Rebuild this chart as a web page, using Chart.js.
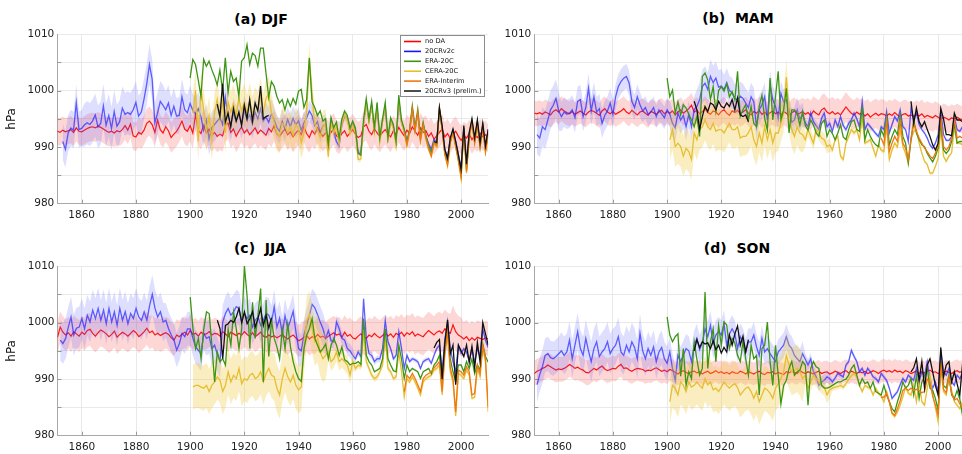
<!DOCTYPE html>
<html>
<head>
<meta charset="utf-8">
<title>Seasonal MSLP reconstructions</title>
<script src="https://cdn.jsdelivr.net/npm/chart.js@4.4.1/dist/chart.umd.min.js"></script>
<style>
  html, body { margin: 0; padding: 0; background: #fff; overflow: hidden; }
  body { width: 962px; height: 454px; position: relative; }
  .panel { position: absolute; width: 490px; height: 227px; }
  .ttl { position: absolute; font: bold 14px "DejaVu Sans", sans-serif; line-height: 14px; color: #000;
         white-space: pre; transform: translateX(-50%); }
</style>
</head>
<body>
<div class="ttl" style="left:261px; top:12px">(a) DJF</div>
<div class="ttl" style="left:738px; top:11px">(b)  MAM</div>
<div class="ttl" style="left:260px; top:241px">(c)  JJA</div>
<div class="ttl" style="left:737px; top:241px">(d)  SON</div>
<div class="panel" style="left:0; top:0"><canvas id="cA" width="490" height="227"></canvas></div>
<div class="panel" style="left:481px; top:0"><canvas id="cB" width="490" height="227"></canvas></div>
<div class="panel" style="left:0; top:227px"><canvas id="cC" width="490" height="227"></canvas></div>
<div class="panel" style="left:481px; top:227px"><canvas id="cD" width="490" height="227"></canvas></div>
<script>
// ---- axes ----
const yearTicks = [1860, 1880, 1900, 1920, 1940, 1960, 1980, 2000];
const hpaTicks = [980, 985, 990, 995, 1000, 1005, 1010];
const seriesNames = ['no DA', '20CRv2c', 'ERA-20C', 'CERA-20C', 'ERA-Interim', '20CRv3 (prelim.)'];

// ---- (a) DJF ----
const djfNoDA = [ // 1851-2010
  992.8, 992.6, 993.0, 992.7, 992.9, 993.1, 992.6, 993.4, 992.8, 992.7,
  993.0, 993.3, 993.5, 993.6, 993.4, 993.7, 993.5, 993.2, 992.9, 992.6,
  992.8, 992.5, 992.9, 992.7, 993.1, 993.8, 993.0, 994.1, 992.0, 991.8,
  992.6, 992.3, 993.0, 994.2, 994.6, 994.0, 992.6, 994.8, 993.1, 992.5,
  993.6, 992.9, 991.7, 992.3, 992.8, 993.6, 994.6, 993.2, 992.8, 993.8,
  992.5, 995.8, 993.0, 992.4, 993.9, 992.5, 993.2, 992.0, 992.6, 991.9,
  992.3, 992.0, 993.8, 994.3, 992.6, 993.2, 991.9, 992.8, 993.6, 992.5,
  993.1, 992.2, 992.8, 993.4, 992.4, 993.0, 992.6, 992.1, 993.3, 992.7,
  993.8, 992.4, 991.9, 992.6, 993.2, 992.2, 992.7, 991.8, 992.5, 993.0,
  992.2, 993.6, 992.4, 991.7, 992.9, 992.3, 993.4, 992.6, 991.9, 992.5,
  991.8, 992.6, 993.2, 992.0, 991.6, 992.4, 992.9, 991.9, 992.5, 993.1,
  992.3, 991.7, 992.0, 993.6, 994.0, 992.8, 992.2, 993.3, 992.5, 991.9,
  992.6, 993.1, 992.4, 991.8, 992.9, 992.2, 993.5, 992.7, 992.0, 993.0,
  992.4, 993.6, 992.8, 992.1, 993.4, 992.6, 992.9, 991.9, 992.5, 991.4,
  992.0, 992.6, 993.2, 991.8, 992.4, 991.5, 992.3, 992.8, 991.9, 991.2,
  992.0, 991.6, 992.4, 991.3, 992.1, 991.7, 992.5, 991.8, 992.2, 991.5
];
const djf20CRv2c = [ // 1853-2010
  991.0, 989.6, 992.5, 993.4, 993.0, 997.8, 993.1, 993.3,
  993.9, 994.3, 994.0, 994.6, 995.7, 993.6, 994.2, 997.3, 993.9, 995.6,
  993.3, 996.3, 993.7, 994.5, 996.9, 995.8, 996.1, 995.8, 996.6, 997.9,
  995.5, 996.2, 998.5, 1001.2, 1004.6, 1002.0, 994.3, 996.0, 998.1, 997.4,
  996.6, 997.8, 995.6, 997.2, 995.5, 995.6, 998.9, 996.6, 996.1, 997.7,
  996.5, 995.8, 996.8, 995.4, 993.0, 994.8, 991.5, 993.4, 994.0, 994.6,
  995.2, 994.0, 998.8, 995.5, 993.8, 996.0, 994.6, 995.8, 994.2, 996.4,
  994.9, 995.7, 994.1, 996.2, 995.0, 996.8, 994.6, 995.3, 994.4, 995.9,
  994.8, 993.5, 992.8, 994.6, 993.2, 994.9, 993.6, 995.1, 993.9, 994.7,
  993.0, 994.3, 995.2, 996.4, 995.6, 993.8, 994.5, 992.6, 993.7, 994.0,
  990.0, 994.5, 992.6, 991.0, 990.2, 994.0, 995.6, 995.2, 992.8, 994.0,
  993.0, 988.9, 989.0, 994.0, 997.8, 994.6, 997.2, 993.0, 997.0, 991.6,
  994.6, 997.0, 991.6, 994.6, 993.6, 991.0, 998.0, 994.4, 993.0, 991.0,
  992.8, 996.6, 993.0, 996.0, 991.6, 994.0, 992.0, 990.6, 989.6, 991.4,
  990.8, 996.6, 993.4, 989.6, 988.2, 991.4, 993.0, 991.0, 988.8, 986.4,
  993.4, 987.2, 992.4, 994.4, 991.4, 994.4, 990.8, 993.8, 990.0, 993.0
];
const djfERA20C = [ // 1900-2010
  1002.2,
  1005.5, 1004.6, 1001.9, 999.0, 1005.5, 1004.3, 1005.2, 1003.7, 1002.5, 1001.0,
  1003.6, 999.9, 1005.8, 999.6, 1003.4, 1001.6, 1002.2, 999.0, 1005.2, 1005.8,
  1008.1, 1004.6, 1006.6, 1006.2, 1004.3, 1007.5, 1007.5, 1003.1, 998.8, 1001.6,
  1000.8, 999.0, 997.8, 998.4, 996.6, 998.4, 997.2, 998.6, 997.6, 999.9,
  1000.2, 997.0, 998.4, 1005.8, 998.0, 997.0, 995.6, 996.4, 994.6, 995.0,
  990.5, 995.2, 993.4, 994.4, 991.6, 995.0, 996.4, 995.6, 993.4, 994.6,
  993.4, 988.9, 988.6, 994.8, 998.6, 995.0, 998.1, 993.4, 997.9, 991.6,
  995.0, 997.9, 991.6, 995.2, 994.0, 991.0, 999.2, 994.8, 993.2, 990.9,
  993.2, 997.3, 993.3, 996.7, 991.6, 994.4, 992.0, 990.3, 989.0, 991.0,
  990.4, 996.8, 993.4, 989.0, 987.2, 991.0, 992.8, 990.4, 988.0, 985.2,
  993.4, 986.0, 992.0, 994.6, 991.0, 994.4, 990.2, 993.8, 989.4, 992.6
];
const djfCERA20C = [ // 1901-2010
  996.0, 1000.0, 991.0, 1000.2, 996.6, 992.8, 995.4, 991.3, 996.0, 998.4,
  994.9, 998.2, 992.5, 998.0, 996.2, 997.6, 995.6, 998.6, 996.4, 997.8,
  996.0, 998.2, 995.8, 997.4, 996.6, 999.0, 996.2, 998.6, 999.4, 996.2,
  994.4, 992.5, 991.9, 994.2, 993.8, 992.6, 993.6, 992.2, 994.0, 993.2,
  990.8, 992.4, 996.4, 1005.6, 999.2, 994.2, 993.0, 991.8, 993.6, 994.0,
  988.3, 994.4, 992.6, 993.6, 990.6, 994.2, 995.8, 994.8, 992.4, 993.8,
  992.6, 987.8, 987.9, 994.0, 998.0, 994.4, 997.4, 992.6, 997.2, 990.8,
  994.4, 997.2, 990.8, 994.6, 993.4, 990.2, 998.4, 994.2, 992.6, 990.2,
  992.6, 996.8, 992.8, 996.0, 991.0, 993.8, 991.4, 989.6, 988.4, 990.6,
  990.0, 996.6, 993.0, 988.6, 986.6, 990.6, 992.4, 990.0, 987.4, 984.4,
  993.0, 985.4, 991.6, 994.2, 990.6, 994.0, 989.8, 993.4, 989.0, 992.2
];
const djfERAI = [ // 1979-2010
  992.8, 990.4,
  992.8, 996.8, 993.0, 996.2, 991.2, 994.0, 991.6, 989.8, 988.4, 990.8,
  990.2, 996.8, 993.2, 988.8, 986.9, 990.8, 992.6, 990.2, 987.7, 984.8,
  993.2, 985.7, 991.8, 994.4, 990.8, 994.2, 990.0, 993.6, 989.2, 992.4
];
const djfV3early = [ // 1910-1929
  997.6, 995.4, 1001.2, 994.4, 996.0, 993.6, 996.8, 994.6, 996.2, 993.8,
  997.4, 995.0, 998.4, 994.6, 997.8, 996.4, 1000.8, 995.0, 995.4, 995.6
];
const djfV3late = [ // 1990-2010
  991.0, 990.8, 997.0, 993.8, 989.6, 988.0, 991.6, 993.2, 991.0, 988.6, 986.0,
  993.8, 987.0, 992.6, 995.0, 991.6, 994.8, 990.8, 994.2, 990.2, 993.2
];
// ensemble half-spreads per decade (1851-60 ... 2001-10)
const djfSpreadNoDA = [2.4, 2.5, 2.5, 2.6, 2.7, 2.8, 2.8, 2.7, 2.7, 2.7, 2.8, 2.8, 2.7, 2.7, 2.6, 2.5];
const djfSpread20CR = [3.2, 3.8, 3.8, 3.6, 3.2, 2.9, 2.7, 2.6, 2.2, 1.8, 0.8, 0.5, 0.4, 0.4, 0.3, 0.3];
const djfSpreadCERA = [null, null, null, null, null, 3.5, 3.5, 3.2, 3.0, 2.8, 1.0, 0.5, 0.4, 0.4, 0.3, 0.3];

// ---- (b) MAM ----
const mamNoDA = [ // 1851-2010
  996.0, 995.9, 996.1, 995.8, 996.2, 996.0, 995.7, 996.3, 996.6, 996.2,
  996.8, 996.4, 996.1, 995.9, 996.3, 995.8, 996.1, 996.4, 996.0, 995.7,
  996.2, 996.5, 996.3, 996.0, 995.6, 996.4, 996.8, 996.2, 995.9, 996.3,
  995.8, 996.1, 996.4, 996.8, 996.2, 995.9, 996.5, 996.1, 995.7, 996.2,
  996.4, 996.0, 995.6, 996.3, 996.1, 995.8, 996.2, 996.5, 995.9, 996.3,
  996.0, 996.4, 995.7, 996.2, 996.6, 996.0, 996.4, 996.8, 997.4, 996.2,
  996.5, 995.9, 996.3, 996.7, 996.1, 995.8, 996.4, 996.2, 995.7, 996.3,
  996.6, 996.0, 995.6, 996.4, 996.1, 996.5, 995.9, 996.2, 996.6, 996.0,
  995.7, 996.3, 996.0, 996.5, 995.8, 996.2, 995.6, 996.1, 996.4, 995.9,
  996.2, 995.7, 996.3, 996.0, 995.5, 996.1, 996.4, 995.8, 996.0, 996.3,
  995.8, 996.1, 995.6, 996.4, 996.0, 995.7, 996.6, 996.9, 996.2, 995.9,
  996.3, 995.8, 996.1, 995.7, 996.4, 997.1, 996.5, 996.0, 995.7, 996.2,
  995.8, 996.1, 995.5, 995.9, 995.3, 995.7, 996.0, 995.6, 995.9, 995.8,
  995.5, 995.9, 995.6, 996.1, 995.7, 995.4, 995.8, 995.9, 995.5, 995.7,
  995.4, 995.8, 995.5, 995.9, 995.3, 995.6, 995.4, 995.2, 995.6, 995.3,
  994.9, 995.3, 995.1, 994.8, 995.2, 994.9, 995.3, 995.0, 994.8, 995.1
];
const mam20CRv2c = [ // 1852-2010
  992.2, 991.6, 993.6, 993.1, 994.8, 996.6, 997.4, 998.6, 996.4,
  995.4, 996.2, 995.8, 996.0, 996.6, 995.2, 998.1, 998.4, 995.4, 997.0,
  1000.4, 996.4, 998.9, 996.2, 996.8, 994.2, 995.6, 996.4, 997.8, 995.8,
  998.9, 1000.7, 1001.6, 1002.2, 1002.5, 1001.3, 998.1, 997.0, 998.9, 997.5,
  996.4, 997.0, 995.8, 996.2, 997.0, 995.4, 996.6, 995.9, 995.2, 996.6,
  995.8, 994.2, 993.4, 996.0, 994.8, 995.6, 993.6, 995.8, 993.6, 996.6,
  997.2, 998.4, 1000.7, 1001.3, 1000.2, 1002.5, 1001.4, 1002.2, 1000.6, 1000.8,
  1000.2, 1001.4, 1000.0, 999.6, 998.6, 998.4, 999.0, 998.6, 997.8, 997.0,
  998.9, 998.0, 993.6, 996.6, 997.5, 998.9, 994.8, 1001.0, 998.4, 997.2,
  995.1, 999.5, 998.0, 998.4, 996.6, 994.4, 994.8, 996.6, 995.0, 995.7,
  994.3, 993.6, 996.0, 994.5, 993.8, 993.1, 995.1, 996.0, 993.6, 994.2,
  992.8, 994.8, 993.6, 995.4, 993.8, 993.1, 994.2, 994.8, 996.0, 995.0,
  993.6, 998.1, 993.1, 994.2, 993.6, 993.0, 992.4, 991.9, 993.6, 993.1,
  996.3, 992.5, 994.0, 995.4, 994.6, 996.6, 993.6, 993.1, 991.0, 996.8,
  995.0, 996.0, 994.0, 993.1, 992.5, 991.6, 990.4, 989.8, 990.7, 992.2,
  996.4, 992.2, 991.2, 991.2, 991.8, 995.4, 993.1, 992.8, 993.6, 993.2
];
const mamERA20C = [ // 1900-2010
  1002.2,
  998.9, 1000.1, 996.0, 998.0, 995.7, 997.5, 996.9, 995.8, 994.8, 993.6,
  995.4, 991.9, 1002.5, 1003.1, 1001.9, 998.4, 1000.7, 996.3, 1000.0, 1000.7,
  999.9, 1001.2, 998.9, 999.8, 998.4, 1003.4, 995.4, 996.6, 997.5, 994.8,
  997.2, 994.2, 993.6, 997.2, 999.2, 995.1, 993.0, 1002.2, 994.8, 998.9,
  1003.4, 994.8, 996.6, 1000.4, 992.5, 996.6, 996.6, 996.0, 993.9, 996.3,
  993.8, 993.0, 994.8, 993.9, 992.5, 991.9, 994.2, 994.8, 991.9, 993.1,
  992.4, 991.3, 992.5, 994.0, 991.8, 991.3, 993.1, 994.5, 994.8, 993.1,
  992.8, 997.2, 991.3, 993.1, 991.9, 991.0, 990.4, 990.1, 993.1, 991.9,
  995.4, 990.4, 991.9, 993.1, 992.2, 995.7, 991.9, 990.7, 987.2, 991.3,
  994.8, 992.5, 991.3, 990.4, 990.1, 988.9, 988.1, 987.4, 988.4, 989.8,
  994.2, 989.5, 988.9, 989.5, 991.0, 994.2, 990.7, 991.0, 991.0, 991.4
];
const mamCERA20C = [ // 1901-2010
  991.3, 993.1, 990.1, 990.7, 990.1, 988.4, 989.8, 989.2, 987.8, 992.5,
  991.3, 993.1, 993.6, 994.8, 993.6, 993.1, 994.2, 992.8, 993.1, 993.1,
  992.5, 993.4, 994.2, 993.1, 993.1, 993.6, 991.6, 991.9, 991.9, 992.5,
  993.6, 991.3, 990.1, 992.5, 990.7, 993.6, 991.3, 993.1, 990.7, 992.5,
  992.5, 994.2, 996.0, 1002.4, 995.7, 993.1, 991.9, 993.6, 992.5, 992.2,
  991.3, 993.1, 991.9, 990.7, 993.1, 992.5, 991.6, 991.3, 990.1, 990.4,
  989.5, 991.3, 991.9, 988.4, 987.8, 990.7, 991.9, 993.1, 992.5, 993.1,
  991.3, 995.4, 990.7, 991.0, 991.3, 989.8, 988.4, 990.4, 989.5, 989.2,
  993.6, 987.8, 989.5, 990.7, 990.0, 993.1, 990.1, 988.9, 987.2, 991.3,
  992.8, 993.1, 990.7, 988.9, 987.5, 986.9, 985.4, 985.4, 986.6, 988.0,
  993.1, 988.4, 987.5, 988.4, 989.0, 993.6, 990.7, 990.7, 990.4, 990.6
];
const mamERAI = [ // 1979-2010
  991.6, 990.4,
  994.6, 989.2, 990.7, 991.9, 991.0, 994.6, 990.7, 989.8, 987.8, 991.6,
  994.2, 992.8, 991.6, 990.7, 989.8, 989.2, 988.4, 988.0, 988.9, 990.4,
  995.4, 990.1, 989.5, 990.1, 991.6, 995.1, 991.6, 991.9, 991.6, 991.8
];
const mamV3early = [ // 1910-1930
  998.1, 996.6, 993.1, 995.4, 997.2, 996.3, 997.8, 997.5, 996.6, 998.1,
  997.2, 996.9, 997.8, 997.2, 998.4, 996.6, 998.7, 995.7, 995.4, 995.7, 994.5
];
const mamV3late = [ // 1990-2010
  998.1, 994.2, 996.9, 994.5, 993.6, 994.5, 993.1, 991.9, 990.4, 989.5, 990.7,
  996.8, 995.0, 992.2, 992.2, 992.0, 996.0, 994.8, 994.8, 994.5, 994.6
];
const mamSpreadNoDA = [2.2, 2.2, 2.2, 2.2, 2.2, 2.2, 2.3, 2.3, 2.4, 2.4, 2.6, 2.6, 2.6, 2.5, 2.5, 2.4];
const mamSpread20CR = [3.4, 2.6, 2.6, 2.2, 2.0, 2.4, 3.0, 2.6, 2.5, 2.2, 0.8, 0.5, 0.4, 0.4, 0.3, 0.3];
const mamSpreadCERA = [null, null, null, null, null, 3.6, 3.6, 3.4, 3.4, 3.2, 1.2, 0.5, 0.4, 0.4, 0.3, 0.3];

// ---- (c) JJA ----
const jjaNoDA = [ // 1851-2010
  997.4, 999.2, 998.3, 997.8, 998.2, 997.6, 998.4, 998.0, 997.6, 998.3,
  997.9, 998.6, 998.8, 998.1, 997.6, 998.2, 998.7, 998.4, 998.0, 997.5,
  997.9, 998.5, 997.4, 997.9, 998.3, 998.0, 997.6, 998.1, 998.6, 998.2,
  997.5, 997.9, 998.4, 999.0, 998.2, 998.5, 997.8, 998.1, 997.7, 998.0,
  998.2, 997.9, 997.3, 996.9, 997.8, 997.5, 998.0, 998.3, 997.8, 998.6,
  997.9, 998.1, 997.6, 998.3, 997.9, 998.0, 998.4, 997.8, 998.1, 998.0,
  997.6, 998.4, 998.0, 997.5, 998.3, 998.0, 997.7, 998.1, 997.8, 998.4,
  997.9, 997.6, 998.2, 997.5, 997.9, 998.3, 997.6, 997.4, 997.8, 997.5,
  997.7, 997.3, 997.6, 997.9, 997.4, 997.1, 997.5, 997.8, 997.3, 996.8,
  997.0, 997.4, 997.7, 997.1, 997.5, 997.3, 997.9, 997.4, 997.6, 997.2,
  997.6, 997.9, 998.2, 997.8, 998.0, 997.4, 998.3, 997.6, 997.9, 997.3,
  997.1, 997.6, 998.0, 997.4, 997.2, 997.8, 997.5, 998.1, 997.6, 997.3,
  997.7, 998.2, 997.6, 998.0, 997.4, 998.1, 997.8, 998.3, 997.6, 998.2,
  997.9, 998.4, 997.6, 998.0, 997.7, 997.5, 998.1, 998.6, 998.2, 997.8,
  998.3, 998.5, 998.1, 998.9, 998.4, 998.1, 999.6, 998.4, 997.8, 997.5,
  997.1, 997.5, 996.8, 997.3, 996.9, 997.4, 997.2, 997.0, 997.3, 997.1
];
const jja20CRv2c = [ // 1852-2010
  996.9, 996.3, 997.2, 999.2, 1001.0, 997.8, 999.0, 999.2, 1000.7,
  998.9, 1001.3, 1000.1, 1002.2, 1000.7, 1002.5, 1000.4, 1002.2, 999.8, 1002.5,
  1000.1, 1001.9, 999.5, 1002.5, 1000.4, 1001.9, 999.8, 1001.6, 1000.7, 1002.5,
  1001.0, 1000.4, 1001.9, 1000.4, 1003.0, 1005.0, 1002.5, 1001.0, 1001.9, 1000.1,
  1000.4, 998.9, 997.8, 996.9, 995.1, 996.3, 998.1, 997.5, 998.9, 998.9,
  997.2, 995.7, 995.1, 994.5, 998.1, 997.2, 997.5, 995.4, 996.0, 994.4,
  993.1, 1000.1, 1001.6, 1002.5, 1001.3, 1001.9, 1002.8, 1002.5, 1000.1, 1001.6,
  1000.7, 1001.3, 999.2, 1000.4, 1001.0, 999.5, 1000.4, 1001.6, 1001.3, 1000.0,
  1002.8, 999.2, 1000.8, 998.0, 1001.2, 999.0, 1000.4, 1002.0, 998.4, 995.4,
  995.0, 997.8, 999.6, 1001.3, 1003.2, 1002.6, 1001.4, 1000.1, 998.9, 997.2,
  998.6, 996.8, 996.6, 1000.1, 998.9, 997.2, 996.9, 995.4, 995.0, 994.2,
  993.6, 994.8, 994.0, 1004.2, 997.2, 994.5, 994.2, 993.1, 993.6, 993.6,
  995.4, 1000.4, 996.6, 995.4, 993.6, 994.2, 998.4, 995.4, 991.9, 994.2,
  993.1, 993.6, 993.4, 993.1, 991.9, 993.1, 993.4, 993.6, 992.8, 994.2,
  995.4, 996.0, 991.3, 997.0, 1000.2, 995.4, 993.1, 991.3, 996.0, 994.6,
  995.4, 994.8, 993.1, 995.4, 993.0, 995.4, 994.0, 998.9, 996.8, 995.6
];
const jjaERA20C = [ // 1900-2010
  1004.5,
  998.9, 995.4, 997.2, 993.6, 998.9, 1001.9, 1001.6, 996.0, 989.5, 994.8,
  993.1, 993.6, 992.5, 998.9, 996.0, 1001.9, 998.9, 995.4, 998.9, 1010.0,
  1004.6, 995.4, 1003.6, 997.2, 1001.3, 1006.0, 989.5, 1004.0, 994.0, 1000.4,
  997.2, 995.7, 993.6, 998.9, 995.4, 999.8, 995.7, 993.1, 991.3, 990.1,
  989.6, 995.4, 997.8, 998.9, 1000.7, 997.2, 996.0, 994.8, 995.4, 996.2,
  993.6, 996.0, 997.2, 996.0, 994.2, 995.7, 993.4, 993.1, 992.5, 992.8,
  992.8, 993.1, 992.6, 1000.7, 994.2, 993.1, 992.5, 991.3, 991.6, 991.9,
  993.6, 998.9, 993.6, 992.5, 991.5, 991.3, 996.0, 993.6, 990.1, 992.5,
  991.3, 991.9, 991.6, 991.3, 990.1, 991.3, 991.6, 991.9, 991.0, 992.5,
  993.1, 994.2, 990.1, 995.4, 998.9, 993.6, 991.3, 989.5, 992.5, 992.5,
  991.3, 993.1, 991.9, 993.6, 991.0, 992.5, 991.6, 996.2, 994.0, 993.0
];
const jjaCERA20C = [ // 1901-2010
  988.6, 988.9, 988.9, 988.6, 988.4, 988.9, 987.8, 988.9, 989.5, 990.4,
  989.8, 987.8, 988.9, 991.3, 989.5, 990.7, 990.1, 991.9, 989.2, 990.1,
  989.8, 990.7, 991.0, 990.1, 990.4, 991.3, 989.5, 991.0, 991.9, 990.7,
  990.4, 988.4, 987.2, 990.1, 991.9, 990.4, 989.5, 990.7, 988.9, 988.1,
  988.6, 995.4, 1000.4, 1001.4, 998.9, 996.6, 997.2, 994.8, 993.6, 994.2,
  994.8, 993.1, 993.6, 994.8, 993.1, 993.6, 993.1, 992.5, 990.7, 993.1,
  991.9, 992.5, 992.2, 998.4, 993.1, 991.9, 990.7, 990.1, 990.4, 991.3,
  992.5, 997.2, 991.9, 991.3, 990.1, 990.4, 994.8, 991.3, 986.9, 990.1,
  989.5, 990.4, 989.5, 988.4, 987.2, 989.5, 990.1, 990.4, 990.7, 991.6,
  991.9, 992.5, 987.2, 994.2, 997.8, 991.3, 989.5, 983.5, 991.0, 990.7,
  990.1, 991.6, 990.7, 986.6, 986.8, 991.9, 990.4, 995.6, 993.0, 984.2
];
const jjaERAI = [ // 1979-2010
  987.8, 990.7,
  990.1, 991.0, 990.1, 989.0, 987.8, 990.1, 990.7, 991.0, 991.3, 992.0,
  992.5, 993.1, 987.8, 995.0, 998.4, 992.0, 990.1, 984.2, 991.6, 991.3,
  990.7, 992.2, 991.3, 987.2, 987.5, 992.5, 991.0, 996.0, 993.6, 985.0
];
const jjaV3early = [ // 1910-1930
  1000.4, 998.9, 993.6, 999.5, 999.8, 1000.4, 1000.0, 1001.0, 1002.5, 1000.0,
  1001.9, 999.8, 1000.7, 1001.9, 999.2, 1000.7, 1002.5, 999.5, 1001.3, 999.0, 1000.8
];
const jjaV3late = [ // 1990-2010
  995.5, 996.5, 997.0, 990.0, 996.5, 1000.5, 994.5, 996.0, 989.0, 996.0, 995.0,
  994.0, 996.0, 993.0, 995.8, 992.0, 996.5, 993.0, 1000.0, 998.0, 996.0
];
const jjaSpreadNoDA = [2.8, 2.9, 2.9, 2.9, 2.8, 2.7, 2.7, 2.7, 2.8, 2.9, 3.0, 3.1, 3.2, 3.3, 3.4, 3.0];
const jjaSpread20CR = [3.6, 3.6, 3.6, 3.4, 3.0, 3.0, 3.0, 3.0, 3.0, 2.8, 1.2, 0.6, 0.5, 0.4, 0.4, 0.3];
const jjaSpreadCERA = [null, null, null, null, null, 4.0, 4.0, 4.0, 4.2, 4.2, 1.6, 0.6, 0.5, 0.4, 0.4, 0.3];

// ---- (d) SON ----
const sonNoDA = [ // 1851-2010
  991.0, 991.4, 991.6, 991.9, 992.1, 992.5, 992.2, 991.9, 991.6, 991.8,
  991.7, 991.9, 992.2, 992.6, 992.3, 991.9, 992.1, 991.8, 991.6, 991.2,
  991.1, 991.5, 991.9, 991.6, 992.0, 992.3, 991.8, 991.5, 991.7, 991.9,
  991.8, 992.3, 992.6, 991.9, 992.0, 991.6, 991.4, 991.7, 991.9, 991.8,
  991.7, 991.4, 991.6, 991.5, 991.8, 992.0, 991.7, 991.4, 991.6, 991.3,
  991.7, 991.5, 991.2, 990.9, 991.3, 991.5, 991.2, 991.0, 991.3, 991.4,
  991.1, 991.3, 990.9, 991.2, 991.4, 991.0, 991.2, 991.5, 991.1, 991.3,
  991.0, 991.2, 990.9, 991.3, 991.1, 991.0, 991.4, 991.2, 990.9, 991.3,
  991.1, 990.9, 991.2, 991.4, 991.0, 990.8, 991.2, 991.1, 991.3, 990.9,
  991.2, 991.0, 990.8, 991.3, 991.1, 991.4, 991.2, 991.0, 991.5, 991.2,
  991.0, 991.3, 991.1, 990.9, 991.2, 991.4, 991.0, 991.2, 991.3, 990.9,
  991.1, 991.4, 991.2, 991.0, 991.3, 991.5, 991.1, 991.4, 991.2, 991.0,
  991.3, 991.1, 991.4, 991.0, 991.2, 991.5, 991.3, 991.0, 991.4, 991.6,
  991.3, 991.5, 991.2, 991.6, 991.3, 991.4, 991.1, 991.5, 991.3, 991.0,
  991.2, 991.5, 991.0, 991.3, 991.1, 991.4, 991.6, 991.2, 991.3, 991.0,
  991.3, 991.1, 991.4, 991.2, 991.0, 991.3, 991.5, 991.2, 991.4, 991.6
];
const son20CRv2c = [ // 1852-2010
  989.0, 990.8, 992.2, 994.2, 994.5, 993.8, 993.6, 994.0, 994.5,
  995.0, 994.2, 994.8, 996.9, 993.6, 996.0, 998.4, 995.4, 994.2, 997.2,
  995.0, 993.1, 995.4, 996.6, 994.0, 994.8, 995.4, 996.6, 994.5, 995.4,
  996.0, 997.5, 994.8, 994.2, 996.0, 994.8, 996.6, 995.6, 993.6, 998.1,
  995.0, 993.6, 995.4, 994.2, 995.7, 993.1, 994.8, 995.6, 993.6, 992.8,
  994.8, 991.9, 989.8, 994.2, 993.1, 994.2, 995.4, 995.0, 993.1, 996.0,
  997.2, 995.2, 996.4, 998.9, 997.5, 999.5, 996.3, 997.8, 998.4, 997.8,
  999.8, 996.0, 998.0, 998.9, 998.0, 995.4, 997.5, 996.6, 994.8, 996.6,
  996.6, 997.8, 995.7, 994.2, 997.2, 994.8, 995.4, 994.5, 993.8, 993.1,
  994.8, 995.4, 996.0, 997.5, 996.0, 995.4, 994.2, 993.6, 993.1, 994.5,
  993.5, 992.5, 993.6, 991.3, 990.4, 988.9, 989.5, 989.8, 990.4, 990.1,
  989.5, 990.2, 991.0, 990.7, 990.4, 992.5, 993.1, 995.1, 994.0, 993.1,
  991.3, 991.9, 990.7, 991.9, 991.3, 990.4, 990.1, 989.5, 991.0, 990.4,
  989.8, 988.4, 986.6, 987.2, 987.8, 989.0, 990.1, 989.5, 990.7, 990.2,
  989.8, 991.9, 989.5, 991.3, 990.6, 993.1, 990.1, 988.4, 989.5, 987.8,
  994.8, 991.3, 990.7, 991.9, 989.5, 988.9, 990.7, 990.1, 991.0, 990.5
];
const sonERA20C = [ // 1900-2010
  1001.0,
  997.8, 996.6, 997.5, 998.0, 990.5, 995.4, 988.9, 991.3, 990.1, 996.6,
  993.5, 990.7, 991.9, 1005.4, 991.9, 996.6, 998.9, 993.1, 999.5, 996.0,
  1000.1, 999.6, 995.4, 997.2, 996.4, 994.2, 993.1, 996.6, 993.6, 990.7,
  996.0, 993.6, 994.2, 987.2, 995.4, 996.0, 1000.1, 993.1, 988.9, 996.0,
  990.7, 985.6, 988.9, 989.8, 991.9, 993.1, 990.7, 991.3, 991.6, 993.1,
  992.5, 985.4, 991.9, 993.1, 992.2, 991.9, 988.9, 988.4, 988.4, 988.6,
  988.9, 989.2, 989.5, 989.5, 989.8, 990.0, 990.7, 991.9, 992.5, 990.7,
  988.9, 990.1, 989.2, 989.5, 988.4, 989.5, 987.8, 987.5, 987.2, 988.9,
  987.2, 986.0, 984.8, 984.2, 986.0, 987.5, 989.5, 988.4, 988.9, 990.1,
  987.2, 990.7, 986.6, 989.5, 990.4, 991.9, 988.4, 988.0, 986.6, 984.5,
  993.1, 988.9, 988.4, 990.7, 987.2, 986.6, 988.0, 986.5, 983.6, 988.0
];
const sonCERA20C = [ // 1901-2010
  986.0, 988.9, 988.4, 987.2, 989.5, 988.9, 987.8, 989.5, 988.6, 988.9,
  989.5, 988.9, 988.4, 990.1, 989.0, 989.5, 988.1, 988.4, 987.8, 988.6,
  989.5, 988.9, 988.4, 988.9, 989.2, 988.5, 987.2, 987.8, 988.4, 988.6,
  987.8, 986.6, 987.8, 986.0, 987.2, 988.4, 988.1, 987.5, 986.6, 988.4,
  989.2, 990.1, 991.3, 994.2, 992.5, 991.3, 991.6, 991.9, 991.3, 990.1,
  990.7, 988.4, 989.5, 990.7, 990.1, 989.5, 988.9, 988.6, 987.2, 988.1,
  988.4, 988.6, 988.7, 988.9, 988.6, 989.2, 990.0, 990.6, 991.0, 990.4,
  988.9, 987.8, 988.9, 988.6, 988.4, 987.2, 988.4, 987.5, 987.0, 986.0,
  987.8, 986.0, 983.9, 983.4, 984.2, 985.4, 986.9, 988.6, 987.5, 987.2,
  988.9, 986.0, 989.5, 986.0, 985.4, 988.4, 990.7, 987.2, 985.0, 982.5,
  992.5, 987.8, 987.2, 990.1, 988.0, 986.0, 985.4, 984.8, 986.0, 985.5
];
const sonERAI = [ // 1979-2010
  986.8, 986.8,
  987.5, 986.0, 984.0, 983.6, 984.8, 986.2, 988.0, 988.4, 988.0, 988.4,
  988.0, 988.2, 988.0, 987.6, 987.8, 990.0, 989.4, 987.0, 985.4, 983.6,
  992.8, 988.2, 987.6, 990.4, 987.5, 986.3, 986.6, 985.6, 985.0, 986.5
];
const sonV3early = [ // 1910-1930
  995.0, 997.0, 995.6, 996.6, 996.2, 996.4, 995.4, 996.8, 995.2, 996.0,
  994.6, 995.6, 994.8, 997.8, 996.0, 998.0, 999.4, 996.0, 997.6, 994.8, 997.0
];
const sonV3late = [ // 1990-2010
  991.3, 992.0, 993.6, 989.8, 993.1, 988.4, 992.5, 993.6, 991.3, 988.9, 987.2,
  995.6, 990.4, 992.5, 993.1, 989.5, 991.3, 989.2, 987.2, 992.6, 991.0
];
const sonSpreadNoDA = [2.2, 2.2, 2.2, 2.2, 2.2, 2.0, 2.0, 2.0, 2.0, 2.0, 2.0, 2.0, 2.0, 2.0, 2.0, 2.0];
const sonSpread20CR = [3.0, 3.3, 3.5, 3.4, 3.0, 2.6, 2.6, 2.4, 2.3, 2.2, 1.0, 0.5, 0.4, 0.4, 0.3, 0.3];
const sonSpreadCERA = [null, null, null, null, null, 4.0, 4.0, 4.0, 4.0, 4.2, 1.5, 0.5, 0.4, 0.4, 0.3, 0.3];

// ---- styles ----
const COL = {
  noDA: '#ff1414', noDABand: 'rgba(245,70,70,0.22)',
  v2c: 'rgba(40,40,255,0.72)', v2cBand: 'rgba(90,90,255,0.2)',
  era20c: '#3c9614',
  cera: '#e6be32', ceraBand: 'rgba(240,200,60,0.32)',
  erai: '#f07814',
  v3: '#111111'
};
const legendColors = ['#ff0000', '#1414ff', '#3c9614', '#e6be32', '#f07814', '#222222'];

Chart.defaults.font.family = '"DejaVu Sans", sans-serif';

function line(vals, start) {
  return vals.map((v, i) => ({ x: start + i, y: v }));
}
function edge(vals, start, spread, sign) {
  return vals.map((v, i) => {
    const yr = start + i;
    return { x: yr, y: v + sign * spread[Math.floor((yr - 1851) / 10)] };
  });
}

function makeDatasets(p) {
  const ds = [];
  const add = (o, order) => ds.push(Object.assign({
    pointRadius: 0, borderWidth: 0, borderColor: 'rgba(0,0,0,0)', tension: 0, fill: false, order
  }, o));
  add({ data: edge(p.noDA, 1851, p.sNoDA, -1) }, 30);
  add({ data: edge(p.noDA, 1851, p.sNoDA, 1), fill: '-1', backgroundColor: COL.noDABand }, 29);
  add({ data: line(p.noDA, 1851), borderColor: COL.noDA, borderWidth: 1.2 }, 28);
  add({ data: edge(p.v2c, p.v2cStart, p.s20CR, -1) }, 27);
  add({ data: edge(p.v2c, p.v2cStart, p.s20CR, 1), fill: '-1', backgroundColor: COL.v2cBand }, 26);
  add({ data: line(p.v2c, p.v2cStart), borderColor: COL.v2c, borderWidth: 1.3 }, 25);
  add({ data: edge(p.cera, 1901, p.sCERA, -1) }, 24);
  add({ data: edge(p.cera, 1901, p.sCERA, 1), fill: '-1', backgroundColor: COL.ceraBand }, 23);
  add({ data: line(p.cera, 1901), borderColor: COL.cera, borderWidth: 1.3 }, 22);
  add({ data: line(p.era20c, 1900), borderColor: COL.era20c, borderWidth: 1.3 }, 21);
  add({ data: line(p.erai, 1979), borderColor: COL.erai, borderWidth: 1.3 }, 20);
  add({ data: line(p.v3a, 1910), borderColor: COL.v3, borderWidth: 1.3 }, 19);
  add({ data: line(p.v3b, 1990), borderColor: COL.v3, borderWidth: 1.3 }, 18);
  return ds;
}

// small inward tick marks like the original axes
const innerTicks = {
  id: 'innerTicks',
  beforeDatasetsDraw(chart) {
    const { ctx, chartArea: a, scales: { x, y } } = chart;
    ctx.save();
    ctx.strokeStyle = '#9a9a9a';
    ctx.lineWidth = 1;
    ctx.beginPath();
    yearTicks.forEach(v => {
      const px = Math.round(x.getPixelForValue(v)) + 0.5;
      ctx.moveTo(px, a.bottom); ctx.lineTo(px, a.bottom - 4);
    });
    hpaTicks.slice(1, -1).forEach(v => {
      const py = Math.round(y.getPixelForValue(v)) + 0.5;
      ctx.moveTo(a.left, py); ctx.lineTo(a.left + 4, py);
    });
    ctx.stroke();
    ctx.restore();
  }
};

// legend box inside panel (a)
const boxLegend = {
  id: 'boxLegend',
  afterDatasetsDraw(chart) {
    const ctx = chart.ctx;
    ctx.save();
    ctx.fillStyle = '#ffffff';
    ctx.fillRect(400.5, 35.5, 84, 61);
    ctx.strokeStyle = '#8c8c8c';
    ctx.lineWidth = 1;
    ctx.strokeRect(400.5, 35.5, 84, 61);
    ctx.font = '6.7px "DejaVu Sans"';
    ctx.textBaseline = 'middle';
    seriesNames.forEach((name, i) => {
      const yy = 41.5 + i * 9.9;
      ctx.strokeStyle = legendColors[i];
      ctx.lineWidth = 1.6;
      ctx.beginPath(); ctx.moveTo(404, yy); ctx.lineTo(421, yy); ctx.stroke();
      ctx.fillStyle = '#111';
      ctx.fillText(name, 425, yy);
    });
    ctx.restore();
  }
};

function makeChart(p) {
  const W = 490, H = 227;
  const [left, right, top, bottom] = p.area;
  const plugins = [innerTicks];
  if (p.legend) plugins.push(boxLegend);
  return new Chart(document.getElementById(p.id), {
    type: 'line',
    data: { datasets: makeDatasets(p) },
    plugins,
    options: {
      responsive: false,
      animation: false,
      devicePixelRatio: 1,
      events: [],
      layout: { padding: { left: 0, right: W - right, top: top, bottom: 0 } },
      plugins: { legend: { display: false }, tooltip: { enabled: false } },
      scales: {
        x: {
          type: 'linear', min: 1851, max: 2010,
          afterBuildTicks: s => { s.ticks = yearTicks.map(v => ({ value: v })); },
          afterFit: s => { s.height = H - bottom; },
          ticks: { callback: v => String(v), color: '#222', font: { size: 10.5 }, padding: 5, maxRotation: 0, autoSkip: false },
          grid: { color: '#e9e9e9', drawTicks: false },
          border: { color: '#a8a8a8' }
        },
        y: {
          min: 980, max: 1010,
          afterBuildTicks: s => { s.ticks = hpaTicks.map(v => ({ value: v })); },
          afterFit: s => { s.width = left; },
          ticks: { callback: v => (v % 10 === 0 ? String(v) : ''), color: '#222', font: { size: 10.5 }, padding: 3 },
          grid: { color: '#e9e9e9', drawTicks: false },
          border: { color: '#a8a8a8' },
          title: { display: p.hpa, text: 'hPa', color: '#111', font: { size: 12 }, padding: { top: 5, bottom: 0 } }
        }
      }
    }
  });
}

makeChart({ id: 'cA', area: [57.3, 488.2, 34, 203.7], hpa: true, legend: true,
  noDA: djfNoDA, v2c: djf20CRv2c, v2cStart: 1853, era20c: djfERA20C, cera: djfCERA20C, erai: djfERAI,
  v3a: djfV3early, v3b: djfV3late, sNoDA: djfSpreadNoDA, s20CR: djfSpread20CR, sCERA: djfSpreadCERA });
makeChart({ id: 'cB', area: [53.3, 484.2, 34, 203.7], hpa: false, legend: false,
  noDA: mamNoDA, v2c: mam20CRv2c, v2cStart: 1852, era20c: mamERA20C, cera: mamCERA20C, erai: mamERAI,
  v3a: mamV3early, v3b: mamV3late, sNoDA: mamSpreadNoDA, s20CR: mamSpread20CR, sCERA: mamSpreadCERA });
makeChart({ id: 'cC', area: [57.5, 488.2, 39, 208.7], hpa: true, legend: false,
  noDA: jjaNoDA, v2c: jja20CRv2c, v2cStart: 1852, era20c: jjaERA20C, cera: jjaCERA20C, erai: jjaERAI,
  v3a: jjaV3early, v3b: jjaV3late, sNoDA: jjaSpreadNoDA, s20CR: jjaSpread20CR, sCERA: jjaSpreadCERA });
makeChart({ id: 'cD', area: [53.3, 484.2, 39, 208.7], hpa: false, legend: false,
  noDA: sonNoDA, v2c: son20CRv2c, v2cStart: 1852, era20c: sonERA20C, cera: sonCERA20C, erai: sonERAI,
  v3a: sonV3early, v3b: sonV3late, sNoDA: sonSpreadNoDA, s20CR: sonSpread20CR, sCERA: sonSpreadCERA });
</script>
</body>
</html>
